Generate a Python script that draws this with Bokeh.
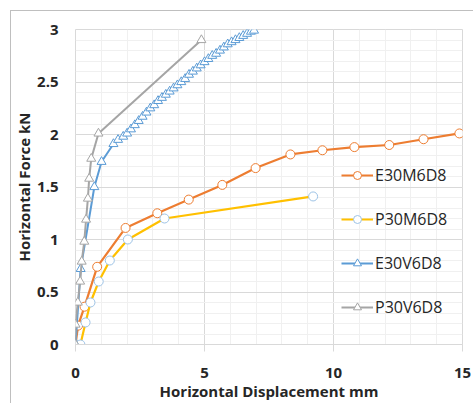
from bokeh.plotting import figure
from bokeh.models import (Range1d, FixedTicker, Legend, LegendItem, InlineStyleSheet)
from bokeh.embed import file_html
from bokeh.resources import INLINE

# ---- data ----
e30m6d8_x = [0, 0.10, 0.35, 0.84, 1.94, 3.17, 4.39, 5.69, 6.98, 8.33, 9.57, 10.81, 12.16, 13.49, 14.88]
e30m6d8_y = [0, 0.18, 0.36, 0.74, 1.11, 1.25, 1.38, 1.52, 1.68, 1.81, 1.85, 1.88, 1.90, 1.955, 2.01]

p30m6d8_x = [0.0, 0.19, 0.39, 0.58, 0.90, 1.33, 2.03, 3.45, 9.21]
p30m6d8_y = [0.0, 0.0, 0.21, 0.40, 0.60, 0.80, 1.00, 1.20, 1.41]

e30v6d8_x = [0, 0.20, 0.73, 1.01, 1.47, 1.65, 1.85, 2.00, 2.15, 2.30, 2.45, 2.60, 2.75, 2.90,
             3.05, 3.20, 3.35, 3.50, 3.65, 3.80, 3.95, 4.10, 4.25, 4.40, 4.55, 4.70, 4.85,
             5.00, 5.15, 5.30, 5.45, 5.60, 5.75, 5.90, 6.05, 6.20, 6.35, 6.50, 6.65, 6.80, 6.92]
e30v6d8_y = [0, 0.72, 1.50, 1.74, 1.91, 1.95, 1.98, 2.01, 2.05, 2.09, 2.13, 2.17, 2.21, 2.25,
             2.28, 2.32, 2.35, 2.38, 2.41, 2.44, 2.47, 2.50, 2.53, 2.57, 2.60, 2.63, 2.66,
             2.69, 2.72, 2.75, 2.77, 2.80, 2.83, 2.86, 2.88, 2.90, 2.92, 2.94, 2.96, 2.98, 2.99]

p30v6d8_x = [0, 0.0, 0.09, 0.18, 0.24, 0.34, 0.41, 0.48, 0.53, 0.61, 0.89, 4.88]
p30v6d8_y = [0, 0.19, 0.40, 0.60, 0.79, 0.98, 1.19, 1.39, 1.58, 1.77, 2.01, 2.90]

series_names = ["E30M6D8", "P30M6D8", "E30V6D8", "P30V6D8"]

x_ticks = [0, 5, 10, 15]
x_tick_labels = ["0", "5", "10", "15"]
y_ticks = [0, 0.5, 1, 1.5, 2, 2.5, 3]
y_tick_labels = ["0", "0.5", "1", "1.5", "2", "2.5", "3"]

x_label = "Horizontal Displacement mm"
y_label = "Horizontal Force kN"

# ---- figure ----
p = figure(width=473, height=403, output_backend="svg", toolbar_location=None,
           x_range=Range1d(0, 15), y_range=Range1d(0, 3),
           min_border_left=75, min_border_top=29, min_border_right=11, min_border_bottom=58)
p.background_fill_color = "white"
p.border_fill_color = "white"
p.outline_line_color = "#D9D9D9"

# outer chart-area frame (only its left and top edges are visible in the reference)
p.stylesheets = [InlineStyleSheet(css=(
    ":host { position: relative; }"
    ":host::after { content: ''; position: absolute; left: 10px; top: 10px; right: 0; bottom: 0;"
    " border-left: 1px solid #BFBFBF; border-top: 1px solid #BFBFBF;"
    " pointer-events: none; z-index: 10; }"
))]

font = "Open Sans"

p.xaxis.ticker = FixedTicker(ticks=x_ticks, minor_ticks=list(range(0, 16)))
p.yaxis.ticker = FixedTicker(ticks=y_ticks, minor_ticks=[i / 10 for i in range(0, 31)])
p.xaxis.major_label_overrides = {t: l for t, l in zip(x_ticks, x_tick_labels)}
p.yaxis.major_label_overrides = {t: l for t, l in zip(y_ticks, y_tick_labels)}

p.xgrid.grid_line_color = "#D9D9D9"
p.ygrid.grid_line_color = "#D9D9D9"
p.xgrid.minor_grid_line_color = "#F0F0F0"
p.ygrid.minor_grid_line_color = "#F0F0F0"

for ax in (p.xaxis[0], p.yaxis[0]):
    ax.major_label_text_font = font
    ax.major_label_text_font_style = "bold"
    ax.major_label_text_font_size = "15px"
    ax.major_label_text_color = "#262626"
    ax.axis_label_text_font = font
    ax.axis_label_text_font_style = "bold"
    ax.axis_label_text_font_size = "15px"
    ax.axis_label_text_color = "#262626"
    ax.minor_tick_line_color = None
    ax.major_tick_in = 0

p.xaxis.axis_label = x_label
p.yaxis.axis_label = y_label
p.xaxis.axis_line_color = "#D9D9D9"
p.xaxis.major_tick_line_color = "#D9D9D9"
p.xaxis.major_tick_out = 7
p.xaxis.major_label_standoff = 16
p.xaxis.axis_label_standoff = 0
p.yaxis.axis_line_color = None
p.yaxis.major_tick_line_color = None
p.yaxis.major_tick_out = 0
p.yaxis.major_label_standoff = 13
p.yaxis.axis_label_standoff = 0

# ---- series ----
orange = "#ED7D31"
yellow = "#FFC000"
blue = "#5B9BD5"
gray = "#A5A5A5"

l1 = p.line(e30m6d8_x, e30m6d8_y, line_color=orange, line_width=2.2)
m1 = p.scatter(e30m6d8_x, e30m6d8_y, marker="circle", size=9, fill_color="white",
               line_color=orange, line_width=1)
l2 = p.line(p30m6d8_x, p30m6d8_y, line_color=yellow, line_width=2.2)
m2 = p.scatter(p30m6d8_x, p30m6d8_y, marker="circle", size=9, fill_color="white",
               line_color="#9DC3E6", line_width=1)
l3 = p.line(e30v6d8_x, e30v6d8_y, line_color=blue, line_width=2)
m3 = p.scatter(e30v6d8_x, e30v6d8_y, marker="triangle", size=9, fill_color="white",
               line_color=blue, line_width=1)
l4 = p.line(p30v6d8_x, p30v6d8_y, line_color=gray, line_width=2)
m4 = p.scatter(p30v6d8_x, p30v6d8_y, marker="triangle", size=9, fill_color="white",
               line_color=gray, line_width=1)

legend = Legend(items=[
    LegendItem(label=series_names[0], renderers=[l1, m1]),
    LegendItem(label=series_names[1], renderers=[l2, m2]),
    LegendItem(label=series_names[2], renderers=[l3, m3]),
    LegendItem(label=series_names[3], renderers=[l4, m4]),
], location=(266, 26))
legend.background_fill_alpha = 0
legend.border_line_color = None
legend.padding = 0
legend.margin = 0
legend.spacing = 22
legend.label_height = 20
legend.glyph_height = 20
legend.glyph_width = 32
legend.label_standoff = 2
legend.label_text_font = font
legend.label_text_font_size = "16px"
legend.label_text_color = "#262626"
p.add_layout(legend, "center")

open("out.html", "w").write(file_html(p, INLINE))
